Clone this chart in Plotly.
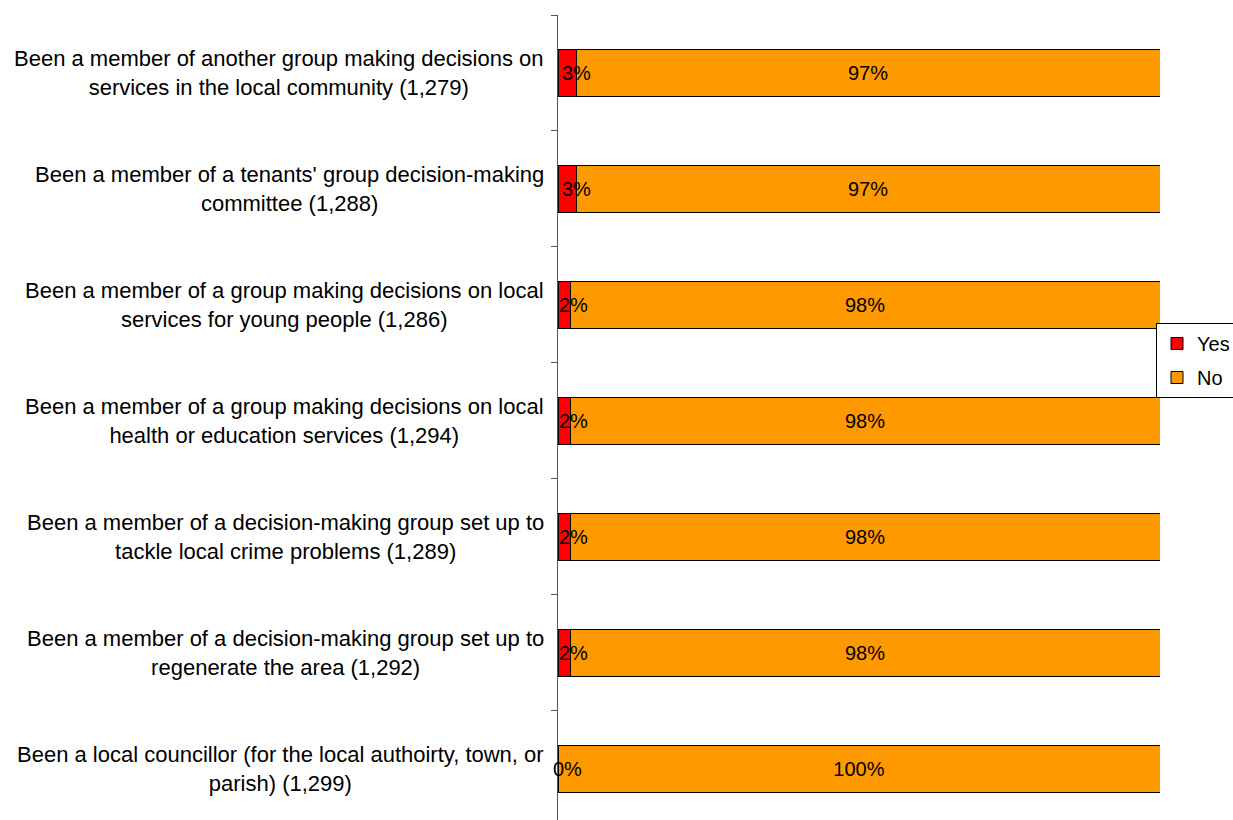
import plotly.graph_objects as go

categories = [
    "Been a member of another group making decisions on<br>services in the local community (1,279)",
    "Been a member of a tenants' group decision-making<br>committee (1,288)",
    "Been a member of a group making decisions on local<br>services for young people (1,286)",
    "Been a member of a group making decisions on local<br>health or education services (1,294)",
    "Been a member of a decision-making group set up to<br>tackle local crime problems (1,289)",
    "Been a member of a decision-making group set up to<br>regenerate the area (1,292)",
    "Been a local councillor (for the local authoirty, town, or<br>parish) (1,299)",
]
yes_vals = [3, 3, 2, 2, 2, 2, 0]
no_vals = [97, 97, 98, 98, 98, 98, 100]

FONT = "Liberation Sans, Arial, sans-serif"
RED = "#FF0000"
ORANGE = "#FF9900"

fig = go.Figure()
fig.add_trace(go.Bar(
    y=categories, x=yes_vals, orientation="h", name="Yes",
    marker=dict(color=RED, line=dict(color="black", width=1)),
    width=0.4, legendgroup="yes", cliponaxis=False,
))
fig.add_trace(go.Bar(
    y=categories, x=no_vals, orientation="h", name="No",
    marker=dict(color=ORANGE, line=dict(color="black", width=1)),
    width=0.4, legendgroup="no", cliponaxis=False,
    text=[f"{v}%" for v in no_vals], textposition="inside",
    insidetextanchor="middle", textangle=0,
    textfont=dict(family=FONT, size=20, color="black"),
))

annotations = []
for cat in categories:
    lines = cat.split("<br>")
    txt = "<br>".join(f'<span style="font-size:22px">{ln}</span>' for ln in lines)
    annotations.append(dict(
        x=0, xref="paper", y=cat, yref="y", xanchor="right", yanchor="middle",
        xshift=-12, align="center", showarrow=False, text=txt,
        font=dict(family=FONT, size=22.3, color="black"),
    ))
for cat, v in zip(categories, yes_vals):
    annotations.append(dict(
        x=v / 2, xref="x", y=cat, yref="y", xanchor="center", yanchor="middle",
        xshift=9, showarrow=False, text=f"{v}%",
        font=dict(family=FONT, size=20, color="black"),
    ))

fig.update_layout(
    width=1233, height=820,
    margin=dict(l=558, r=73, t=15, b=0, autoexpand=False),
    barmode="stack",
    plot_bgcolor="white", paper_bgcolor="white",
    font=dict(family=FONT, size=20, color="black"),
    annotations=annotations,
    showlegend=True,
    legend=dict(
        x=(1156 - 558) / 602, y=1 - (323 - 15) / 805, xanchor="left", yanchor="top",
        bordercolor="black", borderwidth=1, bgcolor="white",
        traceorder="grouped", tracegroupgap=5,
        font=dict(family=FONT, size=20, color="black"),
    ),
    xaxis=dict(range=[0, 100], visible=False, fixedrange=True),
    yaxis=dict(
        type="category", range=[6.44, -0.5], showticklabels=False,
        showline=True, linecolor="#555555", linewidth=1,
        ticks="outside", tickson="boundaries", ticklen=6, tickcolor="#555555",
        showgrid=False, zeroline=False, fixedrange=True,
    ),
)

fig.write_html(
    "out.html",
    config={"displayModeBar": False},
    post_script="document.body.style.margin='0';document.body.style.overflow='hidden';",
)
